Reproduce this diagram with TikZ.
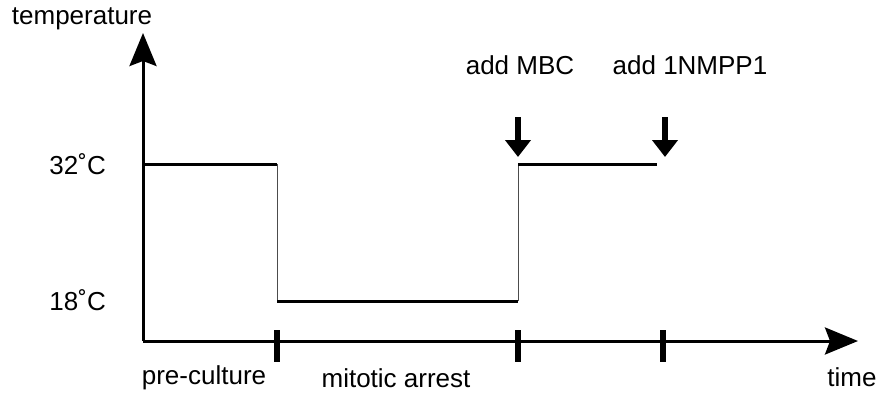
\documentclass[tikz,border=0pt]{standalone}
\usepackage{fontspec}
\setmainfont{Liberation Sans}
\usetikzlibrary{arrows.meta}
\begin{document}
\begin{tikzpicture}[x=1pt,y=-1pt,
  axis/.style={line width=3pt,-{Stealth[length=33pt,width=27pt,inset=5pt]}},
  level/.style={line width=3pt},
  stepline/.style={line width=1pt,black!70},
  tick/.style={line width=6pt},
  drop/.style={line width=6.5pt,-{Triangle[length=17pt,width=25pt]}},
  lbl/.style={font=\fontsize{26}{30}\selectfont,inner sep=0pt}]
\useasboundingbox (0,0) rectangle (884,394);
% axes
\coordinate (o) at (143,341);
\coordinate (ytop) at (143,33);
\coordinate (xend) at (858,341);
\draw[axis] (o) -- (ytop);
\draw[axis] (o) -- (xend);
% ticks
\foreach \n/\x in {t1/277,t2/518,t3/663}{
  \coordinate (\n a) at (\x,330);
  \coordinate (\n b) at (\x,362);
  \draw[tick] (\n a) -- (\n b);
}
% temperature profile
\coordinate (p1) at (143,164);
\coordinate (p2) at (277,164);
\coordinate (p3) at (277,301);
\coordinate (p4) at (518,301);
\coordinate (p5) at (518,164);
\coordinate (p6) at (657,164);
\draw[level] (p1) -- (p2);
\draw[stepline] (p2) -- (p3);
\draw[level] (p3) -- (p4);
\draw[stepline] (p4) -- (p5);
\draw[level] (p5) -- (p6);
% drop arrows
\coordinate (d1a) at (518,117);
\coordinate (d1b) at (518,157);
\coordinate (d2a) at (665,117);
\coordinate (d2b) at (665,157);
\draw[drop] (d1a) -- (d1b);
\draw[drop] (d2a) -- (d2b);
% labels
\node[lbl] (temp) at (82,19) {temperature};
\node[lbl,anchor=east] (c32) at (106,164) {32˚C};
\node[lbl,anchor=east] (c18) at (106,300) {18˚C};
\node[lbl] (pre) at (204,378) {pre-culture};
\node[lbl] (mit) at (396,378) {mitotic arrest};
\node[lbl] (time) at (852,377) {time};
\node[lbl] (mbc) at (520,65) {add MBC};
\node[lbl] (nm) at (690,65) {add 1NMPP1};
\end{tikzpicture}
\end{document}
